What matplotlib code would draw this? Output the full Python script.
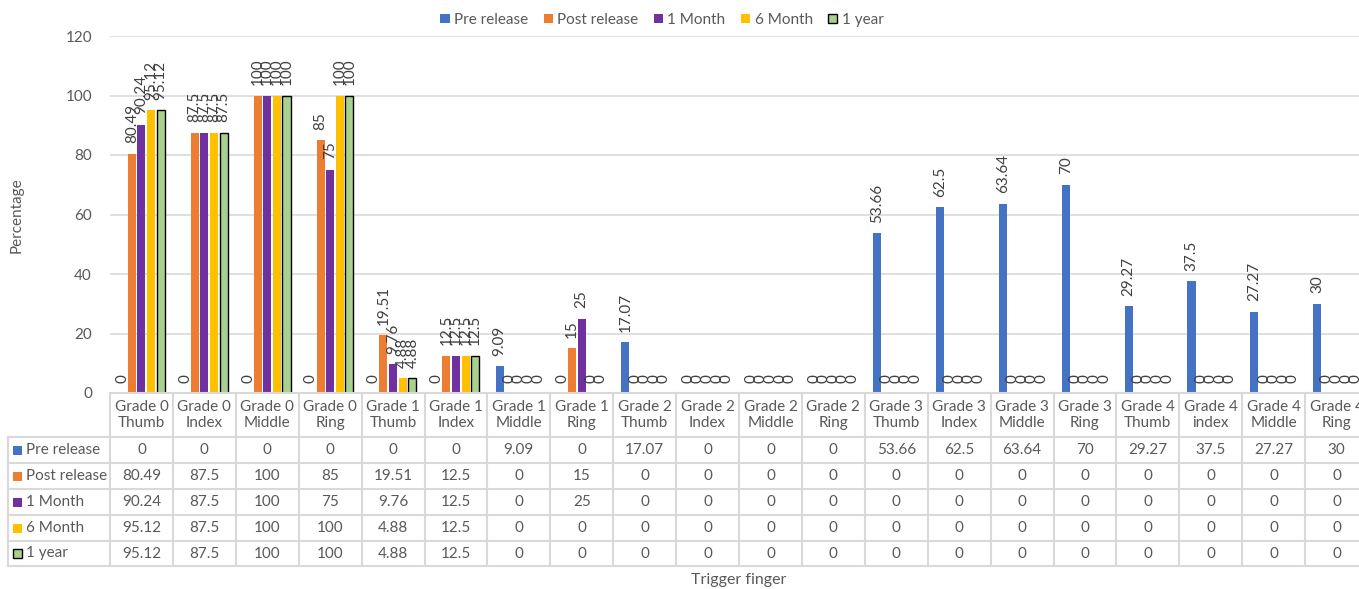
import matplotlib
matplotlib.use("Agg")
import matplotlib.pyplot as plt
from matplotlib.transforms import blended_transform_factory
from matplotlib.lines import Line2D
from matplotlib.patches import Rectangle
import numpy as np

plt.rcParams['font.family'] = ['Lato', 'DejaVu Sans']

categories = ["Grade 0\nThumb", "Grade 0\nIndex", "Grade 0\nMiddle", "Grade 0\nRing",
              "Grade 1\nThumb", "Grade 1\nIndex", "Grade 1\nMiddle", "Grade 1\nRing",
              "Grade 2\nThumb", "Grade 2\nIndex", "Grade 2\nMiddle", "Grade 2\nRing",
              "Grade 3\nThumb", "Grade 3\nIndex", "Grade 3\nMiddle", "Grade 3\nRing",
              "Grade 4\nThumb", "Grade 4\nindex", "Grade 4\nMiddle", "Grade 4\nRing"]
series_names = ["Pre release", "Post release", "1 Month", "6 Month", "1 year"]
pre_release = [0, 0, 0, 0, 0, 0, 9.09, 0, 17.07, 0, 0, 0, 53.66, 62.5, 63.64, 70, 29.27, 37.5, 27.27, 30]
post_release = [80.49, 87.5, 100, 85, 19.51, 12.5, 0, 15, 0, 0, 0, 0, 0, 0, 0, 0, 0, 0, 0, 0]
one_month = [90.24, 87.5, 100, 75, 9.76, 12.5, 0, 25, 0, 0, 0, 0, 0, 0, 0, 0, 0, 0, 0, 0]
six_month = [95.12, 87.5, 100, 100, 4.88, 12.5, 0, 0, 0, 0, 0, 0, 0, 0, 0, 0, 0, 0, 0, 0]
one_year = [95.12, 87.5, 100, 100, 4.88, 12.5, 0, 0, 0, 0, 0, 0, 0, 0, 0, 0, 0, 0, 0, 0]
yticks = [0, 20, 40, 60, 80, 100, 120]

series = [pre_release, post_release, one_month, six_month, one_year]
colors = ["#4472C4", "#ED7D31", "#7030A0", "#FFC000", "#A9D18E"]
edges = [None, None, None, None, "black"]

W, H = 1359, 589
fig = plt.figure(figsize=(W / 100, H / 100), dpi=100)
ax = fig.add_axes([110 / W, 1 - 393 / H, 1258 / W, 357 / H])

def fy(px):
    return 1 - px / H

def fx(px):
    return px / W

txt = "#595959"
lab = "#404040"
grid = "#D9D9D9"
fs = 11

x = np.arange(len(categories))
spacing = 0.153
bw = 0.128
for k, (vals, c, e) in enumerate(zip(series, colors, edges)):
    pos = x + (k - 2) * spacing
    if e:
        ax.bar(pos, vals, bw, color=c, edgecolor=e, linewidth=1.0, zorder=3)
    else:
        ax.bar(pos, vals, bw, color=c, linewidth=0, zorder=3)
    for p, v in zip(pos, vals):
        ax.annotate(f"{v:g}", (p, v), xytext=(0, 7.5), textcoords="offset points",
                    rotation=90, ha="center", va="bottom", fontsize=fs, color=lab,
                    zorder=4)

ax.set_xlim(-0.5, len(categories) - 0.5)
ax.set_ylim(0, 120)
ax.set_yticks(yticks)
ax.set_yticklabels([str(t) for t in yticks], fontsize=fs, color=txt)
ax.tick_params(axis="y", length=0, pad=13)
ax.set_xticks([])
ax.grid(axis="y", color=grid, linewidth=1.2, zorder=0)
for s in ["top", "right", "left", "bottom"]:
    ax.spines[s].set_visible(False)

fig.text(fx(17), fy(215), "Percentage", rotation=90, ha="center", va="center",
         fontsize=fs, color=txt)

# data table
trans = blended_transform_factory(ax.transData, fig.transFigure)
row_edges = [437, 463, 489, 515, 541, 566]
fig.add_artist(Line2D([fx(110), 1.01], [fy(393), fy(393)], color=grid, lw=1.5))
for r in row_edges:
    fig.add_artist(Line2D([fx(7.5), 1.01], [fy(r), fy(r)], color=grid, lw=1.5))
for i in range(len(categories) + 1):
    fig.add_artist(Line2D([i - 0.5, i - 0.5], [fy(393), fy(566)], color=grid, lw=1.5,
                          transform=trans))
fig.add_artist(Line2D([fx(7.5), fx(7.5)], [fy(437), fy(566)], color=grid, lw=1.5))

for i, cat in enumerate(categories):
    fig.text(i, fy(415), cat, transform=trans, ha="center", va="center", fontsize=fs,
             color=txt, linespacing=1.2)

for r, (name, vals, c, e) in enumerate(zip(series_names, series, colors, edges)):
    yc = (row_edges[r] + row_edges[r + 1]) / 2
    fig.add_artist(Rectangle((fx(13), fy(yc + 4.5)), 9 / W, 9 / H, transform=fig.transFigure,
                             facecolor=c, edgecolor=e if e else c,
                             linewidth=1.0 if e else 0))
    fig.text(fx(26), fy(yc), name, ha="left", va="center", fontsize=fs, color=txt)
    for i, v in enumerate(vals):
        fig.text(i, fy(yc), f"{v:g}", transform=trans, ha="center", va="center",
                 fontsize=fs, color=txt)

fig.text(fx(739), fy(580), "Trigger finger", ha="center", va="center", fontsize=fs + 0.5,
         color=txt)

handles = [Rectangle((0, 0), 1, 1, facecolor=c, edgecolor=(e if e else c),
                     linewidth=(1.0 if e else 0)) for c, e in zip(colors, edges)]
fig.legend(handles, series_names, loc="center", bbox_to_anchor=(fx(662), fy(20)),
           ncol=5, frameon=False, fontsize=fs, handlelength=0.6, handleheight=0.6,
           handletextpad=0.3, columnspacing=1.0, labelcolor=txt)

fig.savefig("out.png", dpi=100)
